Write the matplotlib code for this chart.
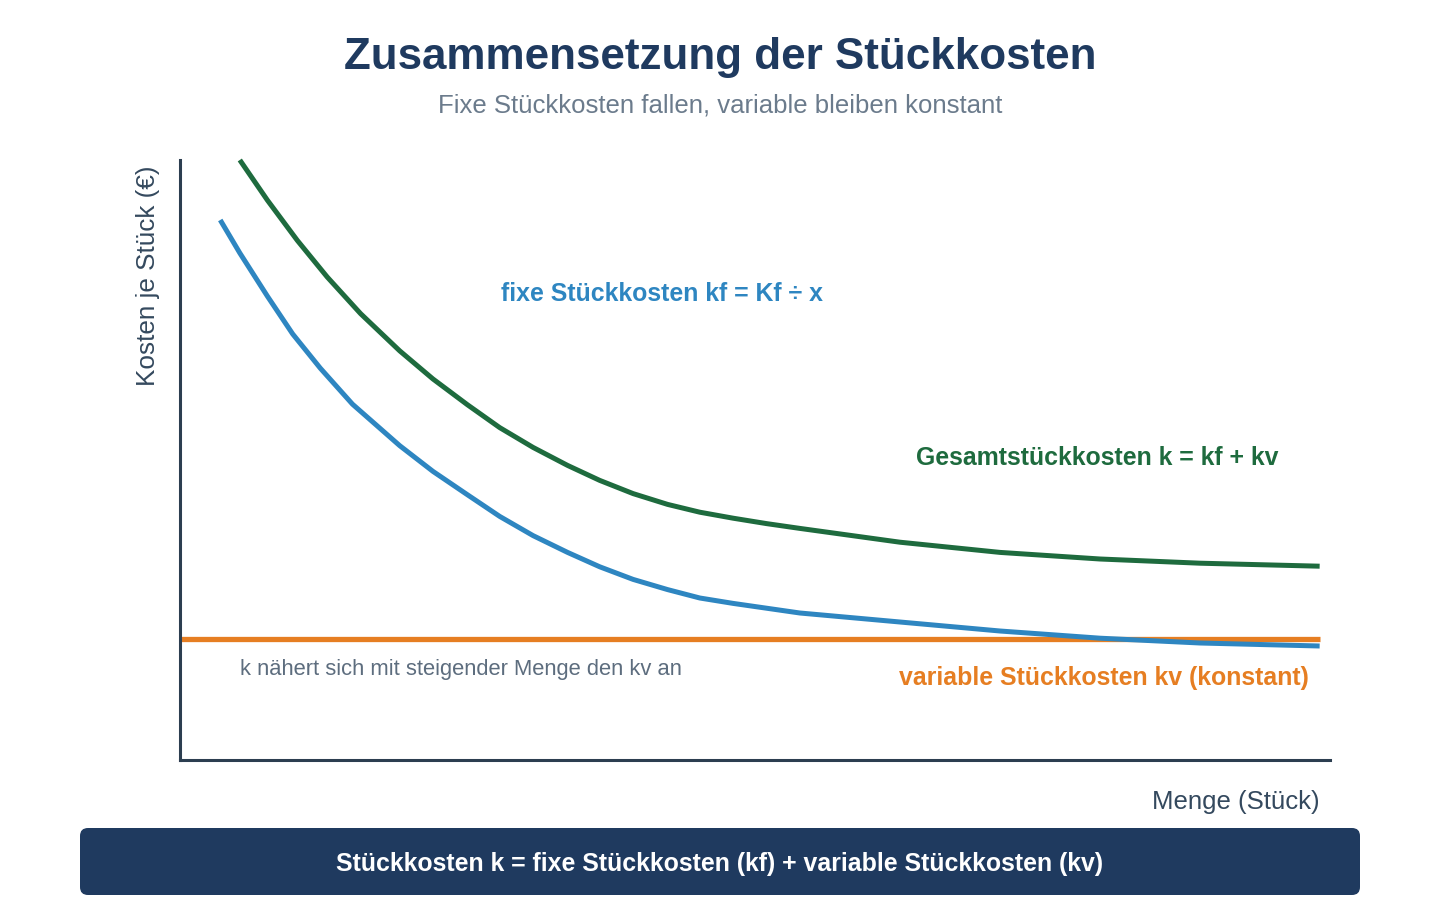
import matplotlib.pyplot as plt
from matplotlib.patches import FancyBboxPatch

plt.rcParams["font.family"] = ["Liberation Sans", "DejaVu Sans"]

# data (abstract units: Menge 0..100, Kosten 0..100)
menge_fix = [3.5, 5.2, 7.6, 9.8, 12.2, 15.0, 19.1, 22.0, 25.0, 27.8, 30.7, 33.7,
             36.5, 39.4, 42.4, 45.2, 48.1, 51.0, 53.9, 62.6, 71.3, 80.0, 88.7, 99.1]
kf = [90.0, 84.5, 77.3, 71.0, 65.3, 59.3, 52.4, 48.1, 44.2, 40.6, 37.4, 34.6,
      32.2, 30.1, 28.4, 27.0, 26.1, 25.3, 24.5, 23.0, 21.5, 20.3, 19.5, 19.0]

menge_ges = [5.2, 7.6, 10.2, 12.8, 15.7, 19.1, 22.0, 25.0, 27.8, 30.7, 33.7, 36.5,
             39.4, 42.4, 45.2, 48.1, 51.0, 53.9, 62.6, 71.3, 80.0, 88.7, 99.1]
k_ges = [100.0, 93.3, 86.6, 80.5, 74.4, 68.2, 63.5, 59.2, 55.4, 52.1, 49.1, 46.6,
         44.4, 42.6, 41.3, 40.3, 39.4, 38.6, 36.3, 34.6, 33.5, 32.8, 32.3]

menge_var = [0.0, 99.1]
kv = [20.2, 20.2]

BLUE = "#2e86c1"
GREEN = "#1e6b3e"
ORANGE = "#e67e22"
NAVY = "#1f3a5f"
AXIS = "#2c3e50"

W, H = 1440, 916
fig = plt.figure(figsize=(W / 100, H / 100), dpi=100)

# background layer in pixel coords for titles and the footer box
bg = fig.add_axes([0, 0, 1, 1])
bg.set_xlim(0, W)
bg.set_ylim(H, 0)
bg.axis("off")
bg.add_patch(FancyBboxPatch((80, 828), 1280, 67, boxstyle="round,pad=0,rounding_size=8",
                            facecolor=NAVY, edgecolor="none"))
bg.text(720, 864, "Stückkosten k = fixe Stückkosten (kf) + variable Stückkosten (kv)",
        ha="center", va="center", color="white", fontsize=17.9, fontweight="bold")
bg.text(720, 57, "Zusammensetzung der Stückkosten", ha="center", va="center",
        color=NAVY, fontsize=31.7, fontweight="bold")
bg.text(720, 105, "Fixe Stückkosten fallen, variable bleiben konstant", ha="center",
        va="center", color="#6b7b8c", fontsize=18.5)
bg.text(148, 276, "Kosten je Stück (€)", ha="center", va="center", rotation=90,
        color="#34495e", fontsize=18.8)
bg.text(1320, 802, "Menge (Stück)", ha="right", va="center", color="#34495e",
        fontsize=18.5)

# plot area
ax = fig.add_axes([180 / W, (H - 760) / H, 1150 / W, 600 / H])
ax.patch.set_alpha(0)
ax.plot(menge_var, kv, color=ORANGE, lw=3.8, solid_capstyle="butt")
ax.plot(menge_fix, kf, color=BLUE, lw=3.6, solid_capstyle="butt", solid_joinstyle="round")
ax.plot(menge_ges, k_ges, color=GREEN, lw=3.6, solid_capstyle="butt",
        solid_joinstyle="round", clip_on=False)

ax.set_xlim(0, 100)
ax.set_ylim(0, 100)
ax.set_xticks([])
ax.set_yticks([])
for s in ["top", "right"]:
    ax.spines[s].set_visible(False)
for s in ["left", "bottom"]:
    ax.spines[s].set_color(AXIS)
    ax.spines[s].set_linewidth(2.2)

ax.text(41.9, 77.7, "fixe Stückkosten kf = Kf ÷ x", ha="center", va="center",
        color=BLUE, fontsize=17.9, fontweight="bold")
ax.text(79.8, 50.4, "Gesamtstückkosten k = kf + kv", ha="center", va="center",
        color=GREEN, fontsize=17.9, fontweight="bold")
ax.text(80.3, 13.7, "variable Stückkosten kv (konstant)", ha="center", va="center",
        color=ORANGE, fontsize=17.9, fontweight="bold")
ax.text(5.2, 15.0, "k nähert sich mit steigender Menge den kv an", ha="left",
        va="center", color="#5d6d7e", fontsize=15.8)

fig.savefig("out.png", dpi=100)
